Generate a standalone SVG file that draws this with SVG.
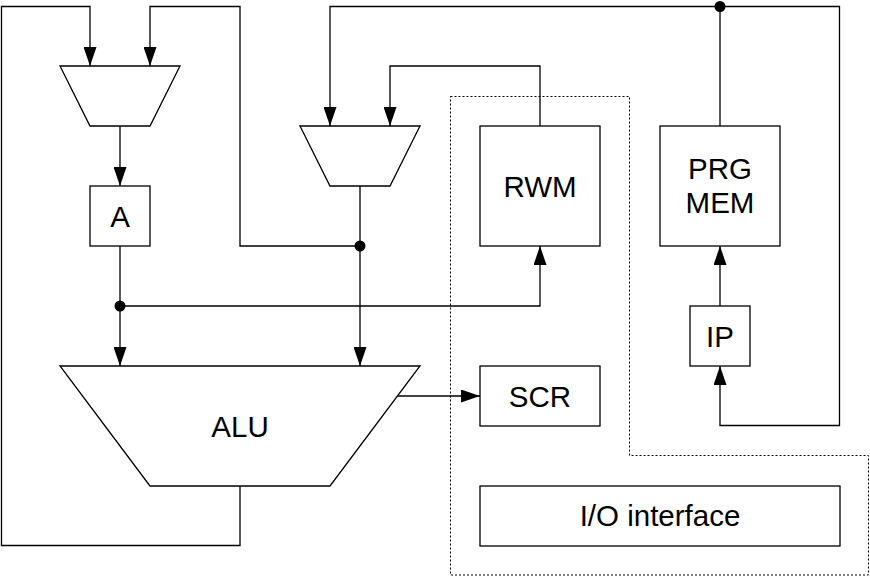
<svg xmlns="http://www.w3.org/2000/svg" width="870" height="576" viewBox="0 0 870 576">
<style>
.shape{fill:#fff;stroke:#000;stroke-width:1.3}
.wire{fill:none;stroke:#000;stroke-width:1.3}
.arr{marker-end:url(#ah)}
.lbl{font-family:"Liberation Sans",Arial,sans-serif;font-size:29.5px;fill:#000;text-anchor:middle}
.dot{fill:#000}
.border{fill:none;stroke:#000;stroke-width:1;stroke-dasharray:2,2}
</style>
<defs>
<marker id="ah" viewBox="0 0 19 13" markerWidth="19" markerHeight="13" refX="19" refY="6.5" orient="auto" markerUnits="userSpaceOnUse">
<path d="M0,0 L19,6.5 L0,13 z" fill="#000"/>
</marker>
</defs>
<rect width="870" height="576" fill="#fff"/>
<polygon class="border" points="450.5,96.5 629.5,96.5 629.5,455.5 868.5,455.5 868.5,575 450.5,575"/>
<g id="connectors">
<path class="wire arr" d="M240,486 V545.5 H1.5 V6.5 H90 V66"/>
<path class="wire arr" d="M360,246 H240 V6.5 H150 V66"/>
<path class="wire arr" d="M360,186 V366"/>
<path class="wire arr" d="M120,126 V186"/>
<path class="wire arr" d="M120,246 V366"/>
<path class="wire arr" d="M120,306 H540 V246"/>
<path class="wire arr" d="M540,126 V66 H390 V126"/>
<path class="wire arr" d="M720,126 V6.5 H330 V126"/>
<path class="wire arr" d="M720,6.5 H839.5 V425.5 H720 V366"/>
<path class="wire arr" d="M720,306 V246"/>
<path class="wire arr" d="M397.5,396 H480"/>
<circle class="dot" cx="360" cy="246" r="5.5"/>
<circle class="dot" cx="120" cy="306" r="5.5"/>
<circle class="dot" cx="720" cy="6.5" r="5.5"/>
</g>
<g id="mux1"><polygon class="shape" points="60,66 180,66 150,126 90,126"/></g>
<g id="mux2"><polygon class="shape" points="300,126 420,126 390,186 330,186"/></g>
<g id="A"><rect class="shape" x="90" y="186" width="60" height="60"/><text class="lbl" x="120" y="226.5">A</text></g>
<g id="RWM"><rect class="shape" x="480" y="126" width="120" height="120"/><text class="lbl" x="540" y="196.5">RWM</text></g>
<g id="PRGMEM"><rect class="shape" x="660" y="126" width="120" height="120"/><text class="lbl" x="720" y="178.5">PRG</text><text class="lbl" x="720" y="212.5">MEM</text></g>
<g id="IP"><rect class="shape" x="690" y="306" width="60" height="60"/><text class="lbl" x="720" y="346.5">IP</text></g>
<g id="ALU"><polygon class="shape" points="60,366 420,366 330,486 150,486"/><text class="lbl" x="240" y="436.5">ALU</text></g>
<g id="SCR"><rect class="shape" x="480" y="366" width="120" height="60"/><text class="lbl" x="540" y="406.5">SCR</text></g>
<g id="IO"><rect class="shape" x="480" y="486" width="360" height="60"/><text class="lbl" x="660" y="526">I/O interface</text></g>
</svg>
